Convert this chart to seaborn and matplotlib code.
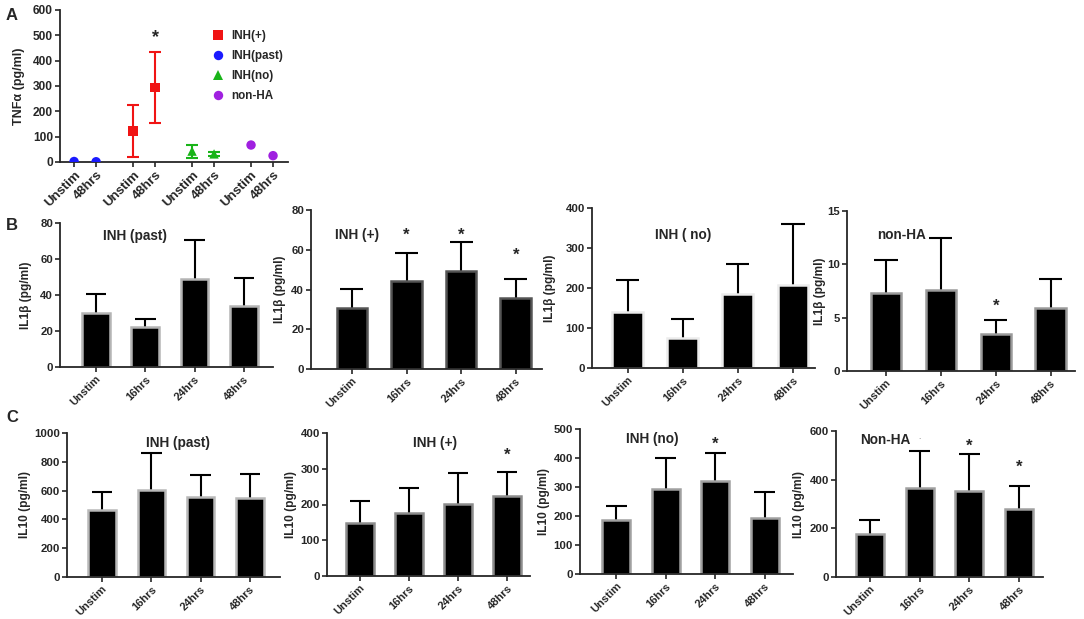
import numpy as np
import pandas as pd
import matplotlib
matplotlib.use("Agg")
import matplotlib.pyplot as plt
import seaborn as sns

sns.set_style("ticks")
plt.rcParams["font.family"] = ["Liberation Sans", "DejaVu Sans"]
plt.rcParams["font.weight"] = "bold"
plt.rcParams["axes.labelweight"] = "bold"

# ---------------- data ----------------
# panel A: TNF-alpha
tnf_groups = ["INH(past)", "INH(+)", "INH(no)", "non-HA"]   # x-axis order
tnf_legend = ["INH(+)", "INH(past)", "INH(no)", "non-HA"]   # legend order
tnf_times = ["Unstim", "48hrs"]
tnf_past = [2, 1]
tnf_past_err = [0, 0]
tnf_pos = [122, 293]
tnf_pos_err = [102, 140]
tnf_no = [43, 32]
tnf_no_err = [26, 7]
tnf_nonha = [67, 25]
tnf_nonha_err = [0, 0]
tnf_stars = {"INH(+)": [None, 515]}

# panels B and C
times = ["Unstim", "16hrs", "24hrs", "48hrs"]

il1b_past = [30, 22, 49, 34]
il1b_past_sd = [10.5, 4.5, 21.5, 15.5]
il1b_past_star = [None, None, None, None]

il1b_pos = [30.5, 44.5, 49.5, 35.5]
il1b_pos_sd = [10, 14, 14.5, 10]
il1b_pos_star = [None, 70, 70, 60]

il1b_no = [139, 76, 186, 207]
il1b_no_sd = [82, 47, 74, 153]
il1b_no_star = [None, None, None, None]

il1b_nonha = [7.35, 7.55, 3.45, 5.95]
il1b_nonha_sd = [3.05, 4.95, 1.3, 2.65]
il1b_nonha_star = [None, None, 6.6, None]

il10_past = [463, 605, 558, 551]
il10_past_sd = [130, 256, 148, 164]
il10_past_star = [None, None, None, None]

il10_pos = [147, 176, 201, 224]
il10_pos_sd = [62, 69, 88, 68]
il10_pos_star = [None, None, None, 352]

il10_no = [185, 294, 320, 194]
il10_no_sd = [48, 105, 98, 88]
il10_no_star = [None, None, 468, None]

il10_nonha = [175, 364, 353, 280]
il10_nonha_sd = [59, 153, 153, 96]
il10_nonha_star = [None, None, 558, 475]

# ---------------- layout helpers ----------------
W, H = 1084, 619
fig = plt.figure(figsize=(W / 100, H / 100), dpi=100)


def add_ax(l, t, r, b):
    return fig.add_axes([l / W, 1 - b / H, (r - l) / W, (b - t) / H])


def style_ax(ax, ysize):
    sns.despine(ax=ax)
    for s in ["left", "bottom"]:
        ax.spines[s].set_linewidth(1.3)
    ax.tick_params(direction="out", length=3.5, width=1.2, labelsize=ysize, pad=1.5)


def star(ax, x, y, fs=12):
    ax.annotate("*", (x, y), xytext=(0, -0.6 * fs), textcoords="offset points",
                ha="center", va="baseline", fontsize=fs, fontweight="bold")


# ---------------- panel A ----------------
axA = add_ax(60, 10, 288, 162)
means = [tnf_past, tnf_pos, tnf_no, tnf_nonha]
errs = [tnf_past_err, tnf_pos_err, tnf_no_err, tnf_nonha_err]
group_step = 2.68
rows = []
for gi, g in enumerate(tnf_groups):
    for ti, t in enumerate(tnf_times):
        rows.append({"group": g, "time": t, "mean": means[gi][ti],
                     "err": errs[gi][ti], "xpos": gi * group_step + ti})
df_a = pd.DataFrame(rows)

palette = {"INH(+)": "#f01414", "INH(past)": "#1a1aff", "INH(no)": "#19b419", "non-HA": "#a020e0"}
markers = {"INH(+)": "s", "INH(past)": "o", "INH(no)": "^", "non-HA": "o"}

for g in tnf_groups:
    sub = df_a[df_a["group"] == g]
    if sub["err"].sum() > 0:
        axA.errorbar(sub["xpos"], sub["mean"], yerr=sub["err"], fmt="none",
                     ecolor=palette[g], elinewidth=1.5, capsize=4.5, capthick=1.5, zorder=2)

sns.scatterplot(data=df_a, x="xpos", y="mean", hue="group", style="group",
                hue_order=tnf_legend, style_order=tnf_legend,
                palette=palette, markers=markers, s=46, linewidth=0, ax=axA, zorder=3)
sns.move_legend(axA, "upper left", bbox_to_anchor=(201 / W, 1 - 24 / H),
                bbox_transform=fig.transFigure, frameon=False, title=None,
                fontsize=8.4, handletextpad=0.1, labelspacing=0.68, borderpad=0)

for g, ys in tnf_stars.items():
    gi = tnf_groups.index(g)
    for ti, y in enumerate(ys):
        if y is not None:
            star(axA, gi * group_step + ti, y, fs=13)

axA.set_xlim(-0.64, 9.72)
axA.set_ylim(0, 600)
axA.set_yticks(np.arange(0, 601, 100))
axA.set_xticks(df_a["xpos"])
axA.set_xticklabels(df_a["time"], rotation=45, ha="right", rotation_mode="anchor")
axA.set_xlabel("")
axA.set_ylabel("TNFα (pg/ml)", fontsize=9)
style_ax(axA, 8.6)
axA.tick_params(axis="x", labelsize=9.5)
axA.yaxis.set_label_coords(-0.155, 0.5)

# ---------------- bar panels ----------------
panels = [
    # vals, sd, stars, edge, title, title pos, ylabel, ymax, step, box, xlim, ylab x
    (il1b_past, il1b_past_sd, il1b_past_star, "#b4b4b4", "INH (past)", (0.35, 0.91),
     "IL1β (pg/ml)", 80, 20, (60, 223, 273, 367), (-0.73, 3.59), -0.13),
    (il1b_pos, il1b_pos_sd, il1b_pos_star, "#555555", "INH (+)", (0.2, 0.84),
     "IL1β (pg/ml)", 80, 20, (311, 210, 542, 369), (-0.75, 3.48), -0.11),
    (il1b_no, il1b_no_sd, il1b_no_star, "#ececec", "INH ( no)", (0.41, 0.83),
     "IL1β (pg/ml)", 400, 100, (592, 208, 815, 368), (-0.65, 3.4), -0.16),
    (il1b_nonha, il1b_nonha_sd, il1b_nonha_star, "#9a9a9a", "non-HA", (0.24, 0.85),
     "IL1β (pg/ml)", 15, 5, (847, 211, 1075, 371), (-0.71, 3.44), -0.09),
    (il10_past, il10_past_sd, il10_past_star, "#b8b8b8", "INH (past)", (0.52, 0.93),
     "IL10 (pg/ml)", 1000, 200, (67, 433, 280, 577), (-0.71, 3.61), -0.17),
    (il10_pos, il10_pos_sd, il10_pos_star, "#8c8c8c", "INH (+)", (0.53, 0.93),
     "IL10 (pg/ml)", 400, 100, (327, 433, 530, 576), (-0.67, 3.47), -0.15),
    (il10_no, il10_no_sd, il10_no_star, "#a0a0a0", "INH (no)", (0.34, 0.93),
     "IL10 (pg/ml)", 500, 100, (580, 429, 793, 574), (-0.73, 3.57), -0.14),
    (il10_nonha, il10_nonha_sd, il10_nonha_star, "#a0a0a0", "Non-HA", (0.24, 0.94),
     "IL10 (pg/ml)", 600, 200, (836, 431, 1043, 577), (-0.68, 3.48), -0.15),
]

for vals, sds, stars, edge, title, tpos, ylabel, ymax, step, box, xlim, ylx in panels:
    ax = add_ax(*box)
    sns.barplot(x=times, y=vals, color="black", edgecolor=edge, linewidth=1.8,
                width=0.56, errorbar=None, ax=ax, zorder=2)
    x = np.arange(len(times))
    v = np.array(vals, dtype=float)
    top = v + np.array(sds, dtype=float)
    ax.vlines(x, v, top, color="black", lw=1.5, zorder=1)
    ax.hlines(top, x - 0.21, x + 0.21, color="black", lw=1.5, zorder=1)
    for xi, sy in zip(x, stars):
        if sy is not None:
            star(ax, xi, sy)
    ax.text(tpos[0], tpos[1], title, transform=ax.transAxes, ha="center", va="center",
            fontsize=9.8, fontweight="bold")
    ax.set_xlim(*xlim)
    ax.set_ylim(0, ymax)
    ax.set_yticks(np.arange(0, ymax + 0.1, step))
    ax.set_xticks(x)
    ax.set_xticklabels(times, rotation=45, ha="right", rotation_mode="anchor")
    ax.set_xlabel("")
    ax.set_ylabel(ylabel, fontsize=8.6)
    ax.yaxis.set_label_coords(ylx, 0.5)
    style_ax(ax, 8.2)
    ax.tick_params(axis="x", labelsize=8)
    if ylabel.startswith("IL10") and title == "Non-HA":
        ax.text(1, 558, ".", ha="center", va="bottom", fontsize=6, color="#999999")

# panel letters
fig.text(6 / W, 1 - 15 / H, "A", fontsize=12, fontweight="bold", va="center")
fig.text(6 / W, 1 - 226 / H, "B", fontsize=12, fontweight="bold", va="center")
fig.text(6 / W, 1 - 417 / H, "C", fontsize=12, fontweight="bold", va="center")

fig.savefig("out.png", dpi=100)
